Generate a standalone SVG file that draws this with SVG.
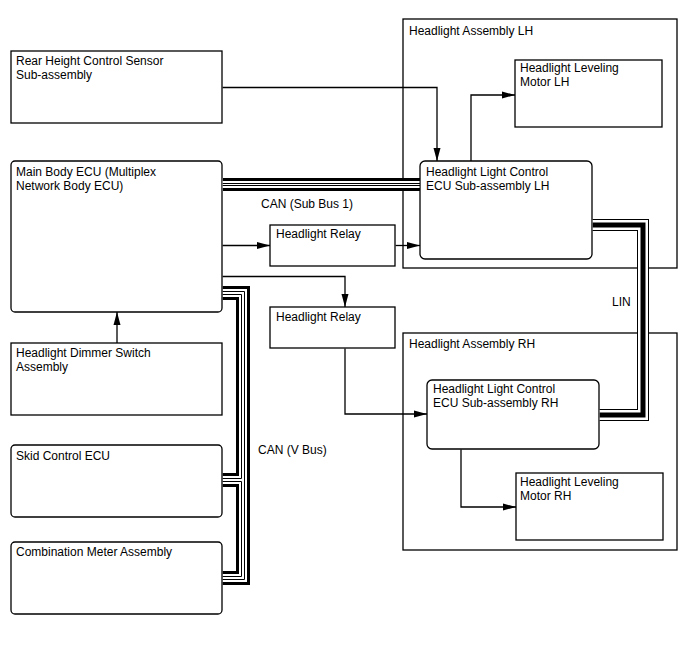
<svg xmlns="http://www.w3.org/2000/svg" width="688" height="658" viewBox="0 0 688 658">
<defs>
<marker id="ah" markerWidth="13" markerHeight="8" refX="13" refY="4" orient="auto" markerUnits="userSpaceOnUse"><path d="M0,0.5 L13,4 L0,7.5 z" fill="#000"/></marker>
<style>
.box{fill:#fff;stroke:#000;stroke-width:1.3}
.grp{fill:none;stroke:#000;stroke-width:1.3}
.t{font-family:"Liberation Sans",Arial,sans-serif;font-size:12px;fill:#000}
.c{fill:none;stroke:#000;stroke-width:1.3;marker-end:url(#ah)}
.th{fill:none;stroke:#000;stroke-width:3;stroke-linejoin:miter}
.tn{fill:none;stroke:#000;stroke-width:1;stroke-linejoin:miter}
</style>
</defs>
<rect width="688" height="658" fill="#fff"/>

<g id="asmLH"><rect class="grp" x="403" y="19" width="274" height="249"/><text class="t" x="409" y="35">Headlight Assembly LH</text></g>
<g id="asmRH"><rect class="grp" x="403" y="333" width="274" height="217"/><text class="t" x="409" y="347.5">Headlight Assembly RH</text></g>

<g id="rear"><rect class="box" x="11" y="51" width="211" height="72"/><text class="t" x="16" y="65">Rear Height Control Sensor</text><text class="t" x="16" y="79">Sub-assembly</text></g>
<g id="mainecu"><rect class="box" x="11" y="161" width="211" height="151" rx="4"/><text class="t" x="16" y="176">Main Body ECU (Multiplex</text><text class="t" x="16" y="190">Network Body ECU)</text></g>
<g id="dimmer"><rect class="box" x="11" y="343" width="211" height="72"/><text class="t" x="16" y="357">Headlight Dimmer Switch</text><text class="t" x="16" y="371">Assembly</text></g>
<g id="skid"><rect class="box" x="11" y="445" width="211" height="72" rx="4"/><text class="t" x="16" y="460">Skid Control ECU</text></g>
<g id="combo"><rect class="box" x="11" y="542" width="211" height="72" rx="4"/><text class="t" x="16" y="556">Combination Meter Assembly</text></g>
<g id="relay1"><rect class="box" x="270" y="225" width="125" height="41"/><text class="t" x="276" y="238">Headlight Relay</text></g>
<g id="relay2"><rect class="box" x="270" y="307" width="125" height="41"/><text class="t" x="276" y="321">Headlight Relay</text></g>
<g id="motorLH"><rect class="box" x="515" y="60" width="147" height="67"/><text class="t" x="520" y="72">Headlight Leveling</text><text class="t" x="520" y="86">Motor LH</text></g>
<g id="ecuLH"><rect class="box" x="420" y="161" width="172" height="98" rx="5"/><text class="t" x="426" y="175.5">Headlight Light Control</text><text class="t" x="426" y="189.5">ECU Sub-assembly LH</text></g>
<g id="ecuRH"><rect class="box" x="427" y="380" width="172" height="69" rx="5"/><text class="t" x="433" y="393">Headlight Light Control</text><text class="t" x="433" y="407">ECU Sub-assembly RH</text></g>
<g id="motorRH"><rect class="box" x="516" y="473" width="147" height="67"/><text class="t" x="520" y="486">Headlight Leveling</text><text class="t" x="520" y="500">Motor RH</text></g>

<g id="connectors">
<path class="c" d="M222.6,87.5 H437 V161"/>
<path class="c" d="M471,161 V95 H515"/>
<path class="c" d="M222.6,245.5 H270"/>
<path class="c" d="M395.6,245.5 H420"/>
<path class="c" d="M222.6,276.5 H345 V307"/>
<path class="c" d="M345,348.6 V414 H427"/>
<path class="c" d="M461,449.6 V507 H516"/>
<path class="c" d="M117,343 V312"/>

<!-- CAN Sub Bus 1 -->
<rect x="222.7" y="178" width="196.6" height="13" fill="#fff"/>
<path class="th" d="M222.7,179.5 H420"/>
<path class="tn" d="M222.7,183.5 H420"/>
<path class="tn" d="M222.7,185.5 H420"/>
<path class="th" d="M222.7,189.5 H420"/>

<!-- LIN -->
<path d="M592.7,225 H643 V415 H599.7" fill="none" stroke="#000" stroke-width="12"/>
<path d="M592.7,225 H643 V415 H599.7" fill="none" stroke="#fff" stroke-width="10"/>
<path d="M592.7,225 H643 V415 H599.7" fill="none" stroke="#000" stroke-width="5"/>

<!-- CAN V Bus -->
<path class="th" d="M222.7,287.5 H248.5 V583.5 H222.7"/>
<path class="tn" d="M222.7,291.5 H244.5 V579.5 H222.7"/>
<path class="tn" d="M222.7,294.5 H241.5 V478.5 H222.7"/>
<path class="tn" d="M222.7,481.5 H241.5 V576.5 H222.7"/>
<path class="th" d="M222.7,298.5 H237.5 V474.5 H222.7"/>
<path class="th" d="M222.7,485.5 H237.5 V572.5 H222.7"/>

<text class="t" x="261" y="207.5">CAN (Sub Bus 1)</text>
<text class="t" x="612" y="306">LIN</text>
<text class="t" x="258" y="454">CAN (V Bus)</text>
</g>
</svg>
